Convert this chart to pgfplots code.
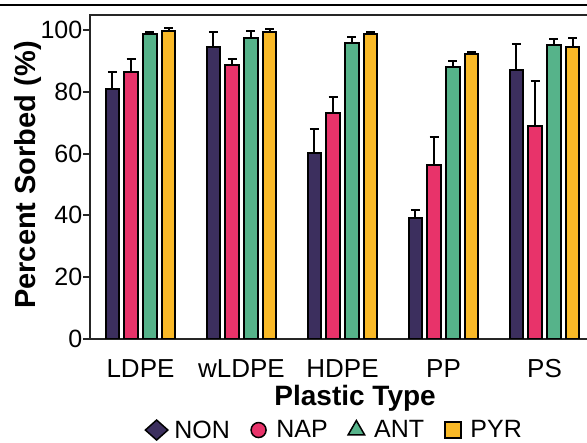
\documentclass[border=0pt]{standalone}
\usepackage{fontspec}
\setmainfont{Liberation Sans}
\usepackage{pgfplots}
\pgfplotsset{compat=1.18}
\definecolor{nonc}{HTML}{3C2F5E}
\definecolor{napc}{HTML}{E8336A}
\definecolor{antc}{HTML}{56B38A}
\definecolor{pyrc}{HTML}{F9B927}
\definecolor{axc}{HTML}{262626}
\pgfplotsset{eb/.style={draw=black, line width=2pt, forget plot,
    error bars/.cd, y dir=plus, y explicit,
    error bar style={line width=2pt, black},
    error mark options={rotate=90, mark size=4.5pt, line width=2pt, black}}}
\begin{document}
\begin{tikzpicture}[x=1pt,y=1pt]
\path[use as bounding box] (0,0) rectangle (587,443);
\clip (0,0) rectangle (587,443);
\draw[line width=1.3pt] (3,438) -- (587,438);
\draw[line width=2pt] (0,437.5) -- (3,437.5);
\begin{axis}[
  at={(90pt,104pt)}, anchor=south west,
  scale only axis, width=505pt, height=324pt,
  xmin=-0.5, xmax=4.5, ymin=0, ymax=104.85,
  ybar, bar width=13.7pt,
  xtick={0,1,2,3,4}, xticklabels={LDPE,wLDPE,HDPE,PP,PS},
  ytick={0,20,40,60,80,100},
  axis line style={line width=2.3pt, axc},
  tick align=outside, ytick pos=left,
  major tick length=6.5pt,
  xtick style={draw=none},
  ytick style={line width=2pt, axc},
  /pgf/number format/assume math mode=true,
  yticklabel style={font=\fontsize{25}{30}\selectfont, anchor=east, inner sep=1pt},
  xticklabel style={font=\fontsize{26}{31}\selectfont, anchor=base, yshift=-32pt},
  xlabel={\textbf{Plastic Type}},
  xlabel style={font=\fontsize{28}{33}\selectfont, at={(axis description cs:0.525,-0.182)}, anchor=center},
  ylabel={\textbf{Percent Sorbed (\%)}},
  ylabel style={font=\fontsize{29}{34}\selectfont, at={(axis description cs:-0.1228,0.506)}, anchor=center},
  legend style={at={(axis description cs:0.481,-0.281)}, anchor=center, draw=none, fill=none,
    font=\fontsize{25}{30}\selectfont, nodes={inner sep=2.5pt},
    /tikz/every even column/.append style={column sep=11pt}},
  legend columns=4,
  legend image code/.code={\path (-15pt,0pt) (15pt,0pt); \draw[#1] plot coordinates {(0pt,0pt)};},
]
\addplot[fill=nonc, bar shift=-28.05pt, eb] coordinates {(0,81) +- (0,5.5) (1,94.5) +- (0,5) (2,60.1) +- (0,7.8) (3,39.1) +- (0,2.6) (4,87) +- (0,8.5)};
\addplot[fill=napc, bar shift=-9.35pt, eb] coordinates {(0,86.5) +- (0,4) (1,88.6) +- (0,2) (2,73.2) +- (0,5) (3,56.3) +- (0,9) (4,69) +- (0,14.6)};
\addplot[fill=antc, bar shift=9.35pt, eb] coordinates {(0,98.6) +- (0,0.9) (1,97.5) +- (0,2.1) (2,95.8) +- (0,2) (3,88.1) +- (0,1.7) (4,95) +- (0,2)};
\addplot[fill=pyrc, bar shift=28.05pt, eb] coordinates {(0,99.8) +- (0,0.9) (1,99.4) +- (0,0.9) (2,98.6) +- (0,0.7) (3,92.2) +- (0,0.8) (4,94.5) +- (0,3)};
\addlegendimage{only marks, mark=diamond*, mark size=10pt, mark options={xscale=1.5, fill=nonc, draw=black, line width=1.5pt}}
\addlegendentry{NON}
\addlegendimage{only marks, mark=*, mark size=7.5pt, mark options={fill=napc, draw=black, line width=1.5pt}}
\addlegendentry{NAP}
\addlegendimage{only marks, mark=triangle*, mark size=9.5pt, mark options={fill=antc, draw=black, line width=1.5pt}}
\addlegendentry{ANT}
\addlegendimage{only marks, mark=square*, mark size=8pt, mark options={fill=pyrc, draw=black, line width=1.5pt}}
\addlegendentry{PYR}
\end{axis}
\end{tikzpicture}
\end{document}
